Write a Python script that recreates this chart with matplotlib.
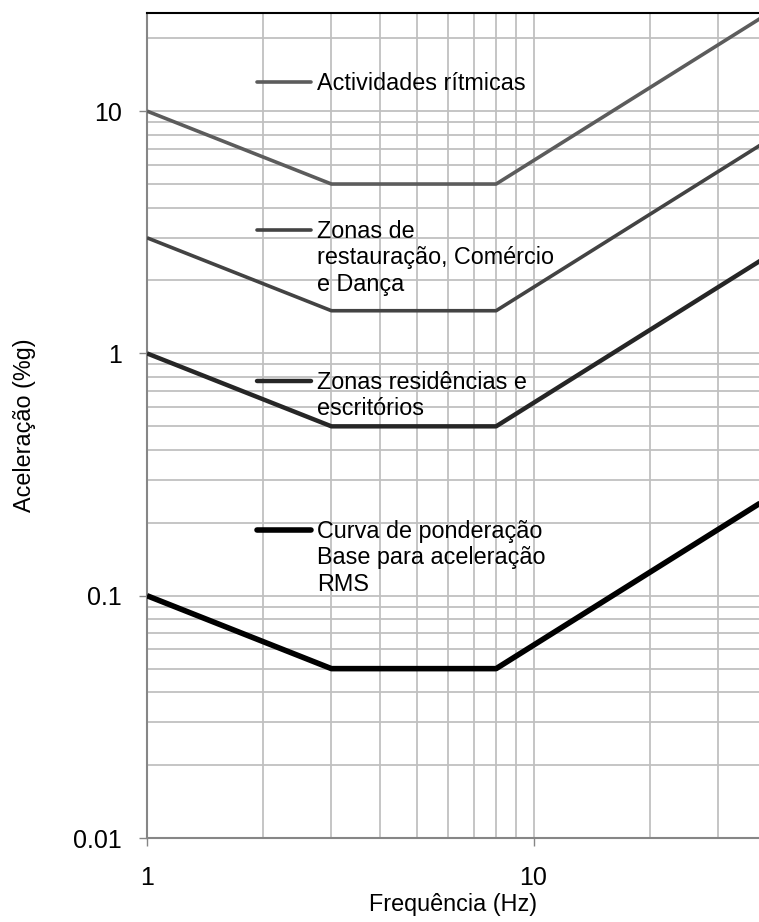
import matplotlib.pyplot as plt
from matplotlib.ticker import FixedLocator, LogLocator, NullFormatter

plt.rcParams['font.family'] = ['Liberation Sans', 'DejaVu Sans']

# dados das curvas (frequencia em Hz, aceleracao em %g)
freq = [1, 3, 8, 40]
ritmicas = [10, 5, 5, 25]
restauracao = [3, 1.5, 1.5, 7.5]
residencias = [1, 0.5, 0.5, 2.5]
base_rms = [0.1, 0.05, 0.05, 0.25]

labels = ["Actividades rítmicas",
          "Zonas de\nrestauração, Comércio\ne Dança",
          "Zonas residências e\nescritórios",
          "Curva de ponderação\nBase para aceleração\nRMS"]
cores = ['#5c5c5c', '#434343', '#262626', '#000000']
larguras = [2.6, 2.6, 3.2, 4.0]
series = [ritmicas, restauracao, residencias, base_rms]

fig = plt.figure(figsize=(7.59, 9.22), dpi=100)
ax = fig.add_axes([147/759, 84/922, 612/759, 825/922])

for s, c, lw in zip(series, cores, larguras):
    ax.plot(freq, s, color=c, lw=lw, solid_capstyle='butt', zorder=3)

ax.set_xscale('log')
ax.set_yscale('log')
ax.set_xlim(1, 38.3)
ax.set_ylim(0.01, 25.4)

ax.xaxis.set_major_locator(FixedLocator([1, 10]))
ax.yaxis.set_major_locator(FixedLocator([0.01, 0.1, 1, 10]))
ax.xaxis.set_minor_locator(LogLocator(base=10, subs=range(2, 10)))
ax.yaxis.set_minor_locator(LogLocator(base=10, subs=range(2, 10)))
ax.xaxis.set_minor_formatter(NullFormatter())
ax.yaxis.set_minor_formatter(NullFormatter())
ax.set_xticklabels(['1', '10'])
ax.set_yticklabels(['0.01', '0.1', '1', '10'])

ax.grid(True, which='both', color='#c0c0c0', lw=1.3, zorder=0)
ax.set_axisbelow(True)
ax.tick_params(which='major', length=6, width=1, color='#868686', labelsize=18, pad=12)
ax.tick_params(which='minor', length=0)
ax.tick_params(axis='x', pad=14)

for lado in ['left', 'bottom']:
    ax.spines[lado].set_color('#868686')
    ax.spines[lado].set_linewidth(1.5)
ax.spines['top'].set_color('#000000')
ax.spines['top'].set_linewidth(1.5)
ax.spines['right'].set_visible(False)

ax.set_xlabel('Frequência (Hz)', fontsize=16.8, labelpad=2)
ax.set_ylabel('Aceleração (%g)', fontsize=16.8, labelpad=27)

# legenda dentro do grafico, uma entrada de cada vez
leg_y = [0.9164, 0.7370, 0.5539, 0.3733]
for lab, c, lw, y in zip(labels, cores, larguras, leg_y):
    ax.plot([0.180, 0.268], [y, y], transform=ax.transAxes, color=c, lw=lw,
            solid_capstyle='round', zorder=4)
    ax.text(0.278, y + 0.0125, lab, transform=ax.transAxes, fontsize=16.8,
            va='top', ha='left', linespacing=1.2, zorder=5)

fig.savefig('out.png', dpi=100)
